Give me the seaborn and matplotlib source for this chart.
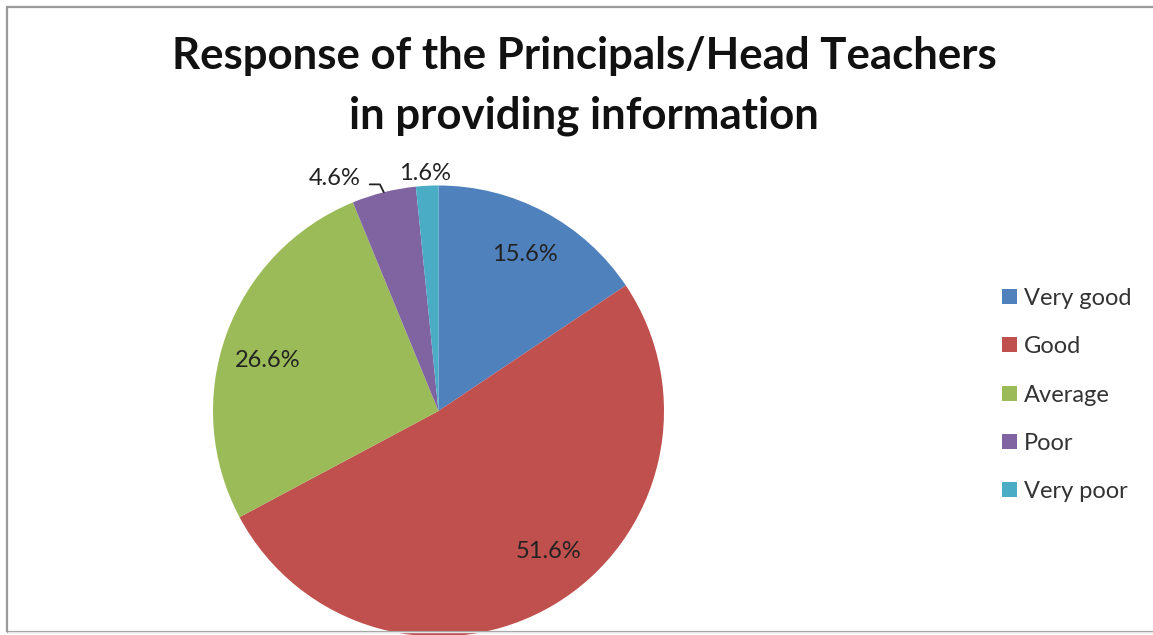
import matplotlib
matplotlib.use("Agg")
import matplotlib.pyplot as plt
from matplotlib.patches import Rectangle, Patch
import numpy as np
import seaborn as sns

sns.set_theme(style="white")
plt.rcParams["font.family"] = ["Lato", "DejaVu Sans"]

categories = ["Very good", "Good", "Average", "Poor", "Very poor"]
percentages = [15.6, 51.6, 26.6, 4.6, 1.6]
colors = ["#4F81BD", "#C0504D", "#9BBB59", "#8064A2", "#4BACC6"]
title_lines = ["Response of the Principals/Head Teachers", "in providing information"]

# label anchor points in pie (unit radius) coordinates
label_xy = [(0.384, 0.692), (0.486, -0.625), (-0.756, 0.226),
            (-0.459, 1.033), (-0.060, 1.055)]

W, H = 1153, 635
fig = plt.figure(figsize=(W / 100, H / 100), dpi=100)
fig.patch.set_facecolor("white")

# outer chart frame
fig.add_artist(Rectangle((7 / W, 3 / H), 1.2, 1 - 10 / H,
                         transform=fig.transFigure, fill=False,
                         edgecolor="#9a9a9a", linewidth=1.6))
fig.add_artist(plt.Line2D([8 / W, 1], [3 / H, 3 / H], transform=fig.transFigure,
                          color="#e6e6e6", linewidth=1.0))

cx, cy, r = 438.5, 411.0, 225.5
ax = fig.add_axes([(cx - r) / W, (H - cy - r) / H, 2 * r / W, 2 * r / H])
wedges, _ = ax.pie(percentages, colors=colors, startangle=90, counterclock=False,
                   radius=1.0, wedgeprops=dict(linewidth=0))
ax.set_xlim(-1, 1)
ax.set_ylim(-1, 1)
ax.set_aspect("equal")
ax.axis("off")

for (lx, ly), p in zip(label_xy, percentages):
    ax.text(lx, ly, f"{p:.1f}%", ha="center", va="center", fontsize=17,
            color="#222222", clip_on=False)

# leader line for the small "Poor" slice
w = wedges[3]
mid = np.deg2rad((w.theta1 + w.theta2) / 2)
ex, ey = np.cos(mid), np.sin(mid)
ax.plot([-0.305, -0.26, ex], [1.005, 1.005, ey], color="#222222",
        linewidth=1.3, clip_on=False)

for line, base in zip(title_lines, (69, 128)):
    fig.text(584 / W, 1 - base / H, line, ha="center", va="baseline",
             fontsize=31.5, fontweight="bold", color="#111111")

handles = [Patch(facecolor=c, edgecolor="none") for c in colors]
leg = fig.legend(handles, categories, loc="upper left",
                 bbox_to_anchor=(1002 / W, 1 - 288 / H), frameon=False,
                 fontsize=17, handlelength=0.64, handleheight=0.6,
                 handletextpad=0.3, labelspacing=1.155, borderpad=0,
                 borderaxespad=0)
for t in leg.get_texts():
    t.set_color("#333333")

fig.savefig("out.png", dpi=100, facecolor="white")
